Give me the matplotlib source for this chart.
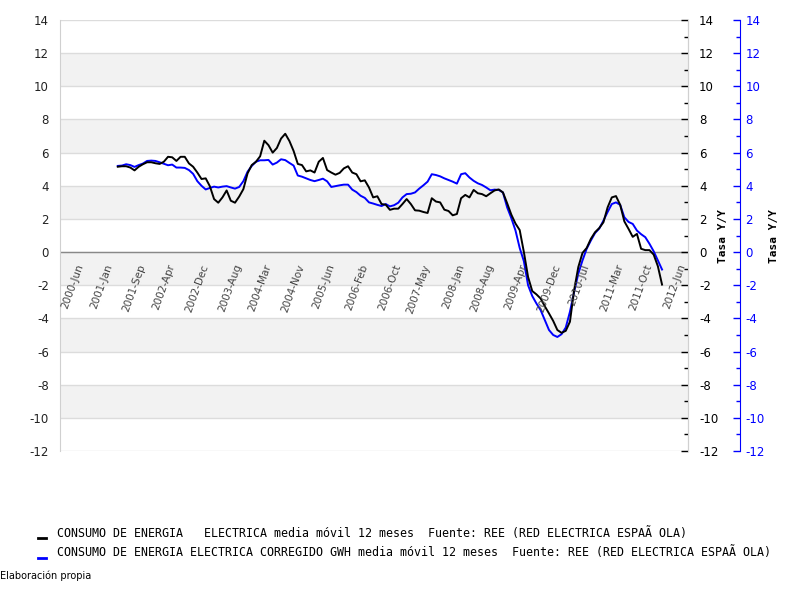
import numpy as np
import matplotlib
matplotlib.use("Agg")
import matplotlib.pyplot as plt
import matplotlib.transforms as mtransforms
from matplotlib.lines import Line2D
from matplotlib.ticker import MultipleLocator

plt.rcParams["axes.unicode_minus"] = False

# months counted from 2000-Jan (0); both series start 2001-Mar
start_month = 14

consumo = [
    5.15, 5.18, 5.18, 5.10, 4.93, 5.15, 5.30, 5.42, 5.42, 5.36,
    5.32, 5.45, 5.75, 5.72, 5.50, 5.75, 5.75, 5.35, 5.15, 4.80,
    4.41, 4.45, 3.97, 3.20, 2.98, 3.30, 3.72, 3.10, 2.98, 3.35,
    3.80, 4.75, 5.25, 5.45, 5.78, 6.72, 6.45, 6.00, 6.28, 6.85,
    7.14, 6.70, 6.10, 5.32, 5.25, 4.87, 4.93, 4.80, 5.45, 5.68,
    4.95, 4.80, 4.67, 4.78, 5.05, 5.18, 4.80, 4.70, 4.27, 4.33,
    3.90, 3.30, 3.37, 2.90, 2.86, 2.55, 2.62, 2.62, 2.90, 3.20,
    2.90, 2.52, 2.50, 2.42, 2.36, 3.25, 3.05, 3.00, 2.56, 2.48,
    2.22, 2.30, 3.25, 3.45, 3.30, 3.75, 3.55, 3.50, 3.37, 3.55,
    3.72, 3.78, 3.60, 2.95, 2.26, 1.72, 1.33, 0.00, -1.50, -2.35,
    -2.55, -2.80, -3.27, -3.70, -4.15, -4.70, -4.87, -4.75, -4.20, -2.30,
    -0.90, -0.05, 0.25, 0.80, 1.20, 1.45, 1.80, 2.70, 3.30, 3.38,
    2.85, 1.85, 1.40, 0.92, 1.10, 0.20, 0.12, 0.12, -0.15, -0.85,
    -1.96,
]

corregido = [
    5.20, 5.22, 5.30, 5.25, 5.14, 5.25, 5.34, 5.50, 5.52, 5.50,
    5.42, 5.33, 5.24, 5.28, 5.10, 5.10, 5.08, 4.95, 4.72, 4.28,
    4.00, 3.78, 3.87, 3.95, 3.90, 3.95, 3.98, 3.90, 3.83, 3.93,
    4.28, 4.85, 5.20, 5.45, 5.54, 5.54, 5.56, 5.28, 5.40, 5.60,
    5.55, 5.38, 5.22, 4.62, 4.55, 4.45, 4.35, 4.28, 4.35, 4.43,
    4.27, 3.93, 3.98, 4.03, 4.07, 4.07, 3.77, 3.62, 3.40, 3.27,
    3.00, 2.93, 2.85, 2.78, 2.90, 2.76, 2.83, 2.98, 3.30, 3.50,
    3.52, 3.60, 3.83, 4.03, 4.25, 4.70, 4.65, 4.57, 4.45, 4.35,
    4.25, 4.13, 4.70, 4.76, 4.50, 4.30, 4.15, 4.05, 3.90, 3.73,
    3.77, 3.75, 3.60, 2.70, 2.05, 1.30, 0.25, -0.55, -2.00, -2.65,
    -3.10, -3.50, -4.10, -4.70, -5.00, -5.12, -4.95, -4.55, -3.60, -2.40,
    -1.30, -0.50, 0.20, 0.70, 1.15, 1.42, 1.90, 2.42, 2.90, 3.00,
    2.85, 2.10, 1.82, 1.70, 1.30, 1.08, 0.90, 0.50, 0.05, -0.50,
    -1.05,
]

tick_labels = ["2000-Jun", "2001-Jan", "2001-Sep", "2002-Apr", "2002-Dec",
               "2003-Aug", "2004-Mar", "2004-Nov", "2005-Jun", "2006-Feb",
               "2006-Oct", "2007-May", "2008-Jan", "2008-Aug", "2009-Apr",
               "2009-Dec", "2010-Jul", "2011-Mar", "2011-Oct", "2012-Jun"]

legend_labels = [
    "CONSUMO DE ENERGIA   ELECTRICA media móvil 12 meses  Fuente: REE (RED ELECTRICA ESPAÃ OLA)",
    "CONSUMO DE ENERGIA ELECTRICA CORREGIDO GWH media móvil 12 meses  Fuente: REE (RED ELECTRICA ESPAÃ OLA)",
]

MONTHS = ["Jan", "Feb", "Mar", "Apr", "May", "Jun",
          "Jul", "Aug", "Sep", "Oct", "Nov", "Dec"]


def to_month(label):
    y, m = label.split("-")
    return (int(y) - 2000) * 12 + MONTHS.index(m)


fig = plt.figure(figsize=(8, 6), dpi=100)
ax = fig.add_axes([0.075, 0.2483, 0.785, 0.7183])

ymin, ymax = -12, 14
for y0 in range(-10, ymax, 4):
    ax.axhspan(y0, y0 + 2, color="#f2f2f2", zorder=0, lw=0)
for y0 in range(ymin, ymax + 1, 2):
    ax.axhline(y0, color="#dcdcdc", lw=1, zorder=1)
ax.axhline(0, color="#888888", lw=1, zorder=2)

x1 = np.arange(start_month, start_month + len(consumo))
x2 = np.arange(start_month, start_month + len(corregido))
ax.plot(x1, consumo, color="black", lw=1.4, zorder=4)
ax.plot(x2, corregido, color="#0000ff", lw=1.4, zorder=3)

ax.set_xlim(0.2, 150.2)
ax.set_ylim(ymin, ymax)
ax.set_xticks([])
ax.set_yticks(range(ymin, ymax + 1, 2))
ax.tick_params(axis="y", length=0, labelsize=8.5, labelcolor="#222222", pad=8)
for s in ["top", "bottom"]:
    ax.spines[s].set_visible(False)
for s in ["left", "right"]:
    ax.spines[s].set_color("#d0d0d0")

trans = mtransforms.blended_transform_factory(ax.transData, ax.transData)
for lab in tick_labels:
    ax.text(to_month(lab), -0.75, lab, transform=trans, rotation=70,
            rotation_mode="anchor", ha="right", va="center",
            fontsize=7.5, color="#444444", zorder=5)

# right axis (black)
ax2 = ax.twinx()
ax2.set_ylim(ymin, ymax)
ax2.yaxis.set_major_locator(MultipleLocator(2))
ax2.yaxis.set_minor_locator(MultipleLocator(1))
ax2.tick_params(axis="y", which="major", direction="in", length=5, width=1,
                color="black", labelsize=8.5, labelcolor="black", pad=8)
ax2.tick_params(axis="y", which="minor", direction="in", length=3, width=1,
                color="black")
for s in ["top", "bottom", "left"]:
    ax2.spines[s].set_visible(False)
ax2.spines["right"].set_color("#d0d0d0")
ax2.set_ylabel("Tasa Y/Y", family="DejaVu Sans Mono", fontsize=8,
               fontweight="bold", labelpad=0)

# second right axis (blue), 52 px to the right of the plot
ax3 = ax.twinx()
ax3.set_ylim(ymin, ymax)
ax3.spines["right"].set_position(("outward", 52 * 72 / 100))
ax3.spines["right"].set_color("#0000ff")
for s in ["top", "bottom", "left"]:
    ax3.spines[s].set_visible(False)
ax3.yaxis.set_major_locator(MultipleLocator(2))
ax3.yaxis.set_minor_locator(MultipleLocator(1))
ax3.tick_params(axis="y", which="major", direction="in", length=5, width=1,
                color="#0000ff", labelsize=8.5, labelcolor="#0000ff", pad=4)
ax3.tick_params(axis="y", which="minor", direction="in", length=3, width=1,
                color="#0000ff")
ax3.set_ylabel("Tasa Y/Y", family="DejaVu Sans Mono", fontsize=8,
               fontweight="bold", labelpad=3)

# legend, drawn by hand like the original
for i, (lab, col) in enumerate(zip(legend_labels, ["black", "#0000ff"])):
    yy = 1 - (533 + 19.5 * i) / 600
    fig.add_artist(Line2D([38 / 800, 46 / 800], [yy - 5 / 600, yy - 5 / 600],
                          color=col, lw=2))
    fig.text(57 / 800, yy, lab, family="DejaVu Sans Mono", fontsize=8.4,
             va="center", ha="left", color="black")

fig.text(0.0, 1 - 576 / 600, "Elaboración propia", fontsize=7, va="center",
         ha="left", color="black")

fig.savefig("out.png", dpi=100)
